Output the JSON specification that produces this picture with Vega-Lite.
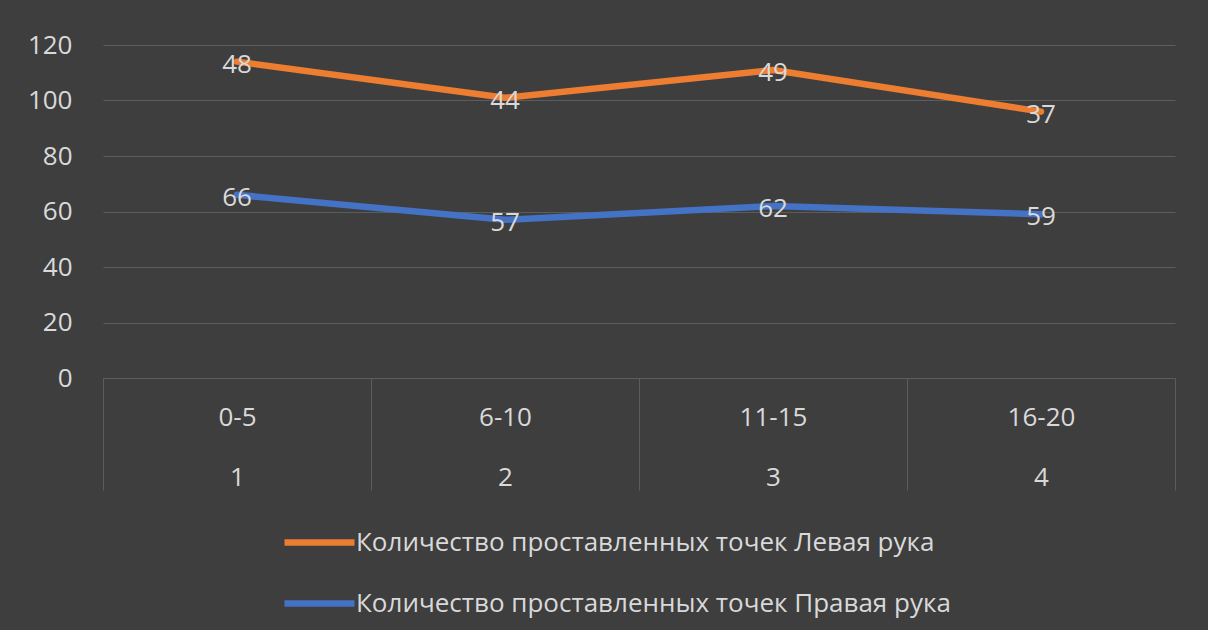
{
  "$schema": "https://vega.github.io/schema/vega-lite/v6.json",
  "width": 1072,
  "height": 333,
  "autosize": {"type": "none"},
  "padding": {"left": 103, "top": 45, "right": 33, "bottom": 252},
  "background": "#3e3e3e",
  "data": {
    "values": [
      {"cat": "0-5|1", "series": "Количество проставленных точек Правая рука", "value": 66},
      {"cat": "6-10|2", "series": "Количество проставленных точек Правая рука", "value": 57},
      {"cat": "11-15|3", "series": "Количество проставленных точек Правая рука", "value": 62},
      {"cat": "16-20|4", "series": "Количество проставленных точек Правая рука", "value": 59},
      {"cat": "0-5|1", "series": "Количество проставленных точек Левая рука", "value": 48},
      {"cat": "6-10|2", "series": "Количество проставленных точек Левая рука", "value": 44},
      {"cat": "11-15|3", "series": "Количество проставленных точек Левая рука", "value": 49},
      {"cat": "16-20|4", "series": "Количество проставленных точек Левая рука", "value": 37}
    ]
  },
  "transform": [
    {"stack": "value", "groupby": ["cat"], "sort": [{"field": "series", "order": "descending"}], "as": ["v0", "v1"]}
  ],
  "encoding": {
    "x": {
      "field": "cat", "type": "nominal", "sort": null, "title": null,
      "scale": {"paddingInner": 0, "paddingOuter": 0},
      "axis": {
        "labelExpr": "datum.value ? split(datum.value, '|') : ''",
        "labelAngle": 0,
        "labelBaseline": "top",
        "labelPadding": -86,
        "labelLineHeight": 60,
        "labelFont": "Open Sans",
        "labelFontSize": 26,
        "labelColor": "#d9d9d9",
        "tickBand": "extent",
        "ticks": true,
        "tickSize": 112,
        "tickColor": "#5c5c5c",
        "tickWidth": 1,
        "domain": true,
        "domainColor": "#5c5c5c",
        "domainWidth": 1,
        "grid": false
      }
    },
    "y": {
      "field": "v1", "type": "quantitative", "title": null,
      "scale": {"domain": [0, 120], "nice": false},
      "axis": {
        "values": [0, 20, 40, 60, 80, 100, 120],
        "domain": false,
        "ticks": false,
        "grid": true,
        "gridColor": "#5c5c5c",
        "gridWidth": 1,
        "labelPadding": 31,
        "labelFont": "Open Sans",
        "labelFontSize": 26,
        "labelColor": "#d9d9d9"
      }
    }
  },
  "layer": [
    {
      "mark": {"type": "line", "strokeWidth": 6.5, "strokeCap": "round", "strokeJoin": "round"},
      "encoding": {
        "color": {
          "field": "series", "type": "nominal", "title": null,
          "scale": {
            "domain": ["Количество проставленных точек Левая рука", "Количество проставленных точек Правая рука"],
            "range": ["#ed7d31", "#4472c4"]
          },
          "legend": {
            "orient": "none",
            "legendX": 178,
            "legendY": 459,
            "direction": "vertical",
            "symbolType": "stroke",
            "symbolSize": 4900,
            "symbolStrokeWidth": 6.5,
            "labelFont": "Open Sans",
            "labelFontSize": 26,
            "labelColor": "#d9d9d9",
            "labelLimit": 800,
            "labelOffset": -2,
            "rowPadding": 9
          }
        }
      }
    },
    {
      "mark": {"type": "text", "font": "Open Sans", "fontSize": 26, "color": "#d9d9d9", "dy": 3},
      "encoding": {
        "text": {"field": "value", "type": "quantitative"}
      }
    }
  ],
  "config": {"view": {"stroke": null}}
}
